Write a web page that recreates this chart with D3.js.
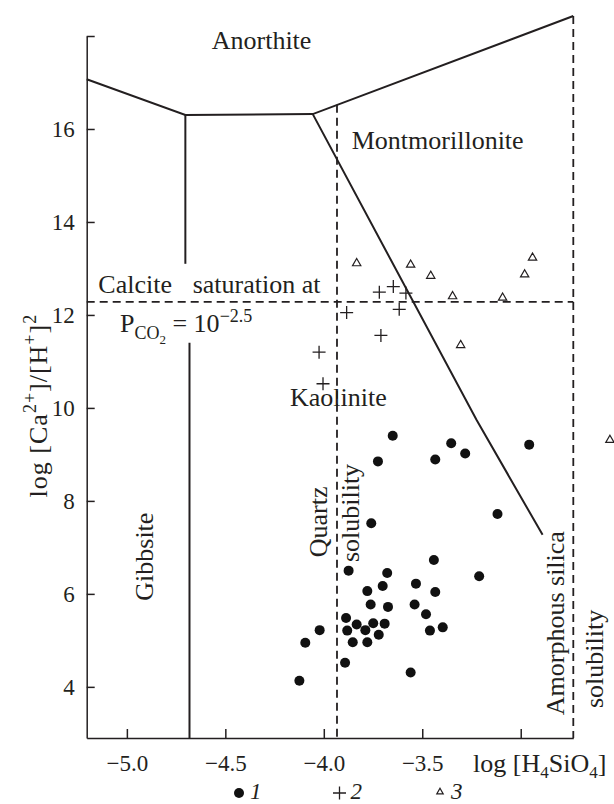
<!DOCTYPE html>
<html>
<head>
<meta charset="utf-8">
<script src="https://cdn.jsdelivr.net/npm/d3@7"></script>
<style>
  body { margin: 0; background: #fff; }
  text { font-family: "Liberation Serif", "Times New Roman", serif; fill: #231f20; }
</style>
</head>
<body>
<div id="chart"></div>
<script>
// Axis ticks
const xTicks = [-5, -4.5, -4, -3.5, -3];
const yTicks = [4, 6, 8, 10, 12, 14, 16, 18];

// Samples: [log H4SiO4, log Ca/H2]
const series1 = [
  [-3.650, 9.40], [-3.725, 8.85], [-3.434, 8.89], [-3.353, 9.24], [-3.282, 9.02], [-2.957, 9.21],
  [-3.759, 7.52], [-3.118, 7.72], [-3.874, 6.50], [-3.678, 6.45], [-3.441, 6.73], [-3.211, 6.38],
  [-3.779, 6.06], [-3.701, 6.17], [-3.532, 6.22], [-3.434, 6.04], [-3.762, 5.77], [-3.674, 5.72],
  [-3.539, 5.77], [-3.481, 5.56], [-3.887, 5.48], [-4.021, 5.22], [-4.094, 4.95], [-3.881, 5.21],
  [-3.833, 5.34], [-3.789, 5.22], [-3.749, 5.37], [-3.691, 5.36], [-3.721, 5.12], [-3.853, 4.96],
  [-3.779, 4.96], [-3.461, 5.21], [-3.396, 5.28], [-3.892, 4.52], [-3.559, 4.31], [-4.124, 4.13]
];
const series2 = [
  [-3.718, 12.49], [-3.647, 12.61], [-3.583, 12.47], [-3.884, 12.05],
  [-3.617, 12.12], [-3.710, 11.56], [-4.024, 11.20], [-4.004, 10.52]
];
const series3 = [
  [-3.833, 13.11], [-3.559, 13.08], [-3.457, 12.84], [-3.346, 12.40], [-3.092, 12.37],
  [-2.940, 13.23], [-2.980, 12.87], [-3.305, 11.35], [-2.547, 9.31]
];
const legendLabels = ["1", "2", "3"];

// Stability field boundaries
const anorthiteBoundary = [[-5.204, 17.07], [-4.703, 16.30], [-4.056, 16.32], [-2.733, 18.43]];
const kaoliniteBoundary = [[-4.056, 16.32], [-3.224, 9.74], [-2.889, 7.27]];
const gibbsiteUpper = [[-4.703, 16.30], [-4.703, 13.10]];
const gibbsiteLower = [[-4.682, 11.40], [-4.682, 2.9]];
// Dashed reference lines
const quartzLine = [[-3.933, 16.52], [-3.933, 2.9]];
const amorphousLine = [[-2.733, 18.43], [-2.733, 2.9]];
const calciteLine = [[-5.204, 12.28], [-2.733, 12.28]];

const width = 614, height = 804;
const ink = "#231f20";

const svg = d3.select("#chart").append("svg")
  .attr("width", width)
  .attr("height", height);

const x = d3.scaleLinear().domain([-5.204, -2.733]).range([86.7, 573.3]);
const y = d3.scaleLinear().domain([2.9, 18]).range([738, 36]);

const line = d3.line().x(d => x(d[0])).y(d => y(d[1]));

// Axes
const fmt = d3.format(".1f");
svg.append("g")
  .attr("transform", `translate(0,${y.range()[0]})`)
  .call(d3.axisBottom(x).tickValues(xTicks).tickSize(-9).tickSizeOuter(0).tickPadding(17)
    .tickFormat(d => d === -3 ? "" : fmt(d)));

svg.append("g")
  .attr("transform", `translate(${x.range()[0]},0)`)
  .call(d3.axisLeft(y).tickValues(yTicks).tickSize(-8).tickSizeOuter(0).tickPadding(12)
    .tickFormat(d => d === 18 ? "" : d));

// drop d3's default sans-serif axis font
svg.selectAll("g").attr("font-family", null).attr("font-size", null);
svg.selectAll(".tick text").attr("font-size", 23);
svg.selectAll(".domain, .tick line").attr("stroke", ink).attr("stroke-width", 1.5);

// Boundaries
const solid = [anorthiteBoundary, kaoliniteBoundary, gibbsiteUpper, gibbsiteLower];
svg.append("g").selectAll("path").data(solid).join("path")
  .attr("d", line)
  .attr("fill", "none")
  .attr("stroke", ink)
  .attr("stroke-width", 2);

const dashed = [quartzLine, amorphousLine, calciteLine];
svg.append("g").selectAll("path").data(dashed).join("path")
  .attr("d", line)
  .attr("fill", "none")
  .attr("stroke", ink)
  .attr("stroke-width", 1.8)
  .attr("stroke-dasharray", "8,5");

// Markers
const plusPath = "M-6.5,0H6.5M0,-6.5V6.5";
const tri = d3.symbol(d3.symbolTriangle);

svg.append("g").selectAll("circle").data(series1).join("circle")
  .attr("cx", d => x(d[0]))
  .attr("cy", d => y(d[1]))
  .attr("r", 5)
  .attr("fill", "#111");

svg.append("g").selectAll("path").data(series2).join("path")
  .attr("transform", d => `translate(${x(d[0])},${y(d[1])})`)
  .attr("d", plusPath)
  .attr("stroke", ink)
  .attr("stroke-width", 1.3);

svg.append("g").selectAll("path").data(series3).join("path")
  .attr("transform", d => `translate(${x(d[0])},${y(d[1])})`)
  .attr("d", tri.size(30)())
  .attr("fill", "none")
  .attr("stroke", ink)
  .attr("stroke-width", 1.2);

// Field labels
function label(text, vx, vy, size) {
  return svg.append("text")
    .attr("x", x(vx))
    .attr("y", y(vy))
    .attr("font-size", size || 26)
    .text(text);
}
label("Anorthite", -4.569, 17.71);
label("Montmorillonite", -3.858, 15.58);
label("Calcite", -5.145, 12.47);
label("saturation at", -4.666, 12.47);
label("Kaolinite", -4.172, 10.04);

// P_CO2 = 10^-2.5
const pco2 = svg.append("text")
  .attr("x", x(-5.035))
  .attr("y", y(11.64))
  .attr("font-size", 26);
pco2.append("tspan").text("P");
pco2.append("tspan").attr("font-size", 18).attr("dy", 7).text("CO");
pco2.append("tspan").attr("font-size", 13).attr("dy", 5).text("2");
pco2.append("tspan").attr("dy", -12).text(" = 10");
pco2.append("tspan").attr("font-size", 18).attr("dy", -10).text("\u22122.5");

// Rotated labels
function vlabel(text, vx, vy) {
  svg.append("text")
    .attr("transform", `translate(${x(vx)},${y(vy)}) rotate(-90)`)
    .attr("text-anchor", "middle")
    .attr("font-size", 26)
    .text(text);
}
vlabel("Gibbsite", -4.867, 6.80);
vlabel("Quartz", -3.984, 7.55);
vlabel("solubility", -3.821, 7.74);
vlabel("Amorphous silica", -2.780, 5.37);
vlabel("solubility", -2.582, 4.60);

// Y axis title
const yTitle = svg.append("text")
  .attr("transform", `translate(${x.range()[0] - 40},${y(10.05)}) rotate(-90)`)
  .attr("text-anchor", "middle")
  .attr("font-size", 26)
  .attr("letter-spacing", 1);
yTitle.append("tspan").text("log [Ca");
yTitle.append("tspan").attr("font-size", 18).attr("dy", -11).text("2+");
yTitle.append("tspan").attr("dy", 11).text("]/[H");
yTitle.append("tspan").attr("font-size", 18).attr("dy", -11).text("+");
yTitle.append("tspan").attr("dy", 11).text("]");
yTitle.append("tspan").attr("font-size", 18).attr("dy", -11).text("2");

// X axis title
const xTitle = svg.append("text")
  .attr("x", x(-3.242))
  .attr("y", y.range()[0] + 34)
  .attr("font-size", 26);
xTitle.append("tspan").text("log [H");
xTitle.append("tspan").attr("font-size", 17).attr("dy", 6).text("4");
xTitle.append("tspan").attr("dy", -6).text("SiO");
xTitle.append("tspan").attr("font-size", 17).attr("dy", 6).text("4");
xTitle.append("tspan").attr("dy", -6).text("]");

// Legend
const lx = d3.scalePoint().domain(legendLabels).range([239, 440]);
const legend = svg.append("g").attr("transform", `translate(0,${height - 11})`);
legend.append("circle").attr("cx", lx("1")).attr("cy", 0).attr("r", 5).attr("fill", "#111");
legend.append("path").attr("transform", `translate(${lx("2")},0)`).attr("d", plusPath)
  .attr("stroke", ink).attr("stroke-width", 1.3);
legend.append("path").attr("transform", `translate(${lx("3")},-1)`).attr("d", tri.size(18)())
  .attr("fill", "none").attr("stroke", ink).attr("stroke-width", 1.2);
legend.selectAll("text").data(legendLabels).join("text")
  .attr("x", d => lx(d) + 11)
  .attr("y", 6)
  .attr("font-size", 23)
  .attr("font-style", "italic")
  .text(d => d);
</script>
</body>
</html>
